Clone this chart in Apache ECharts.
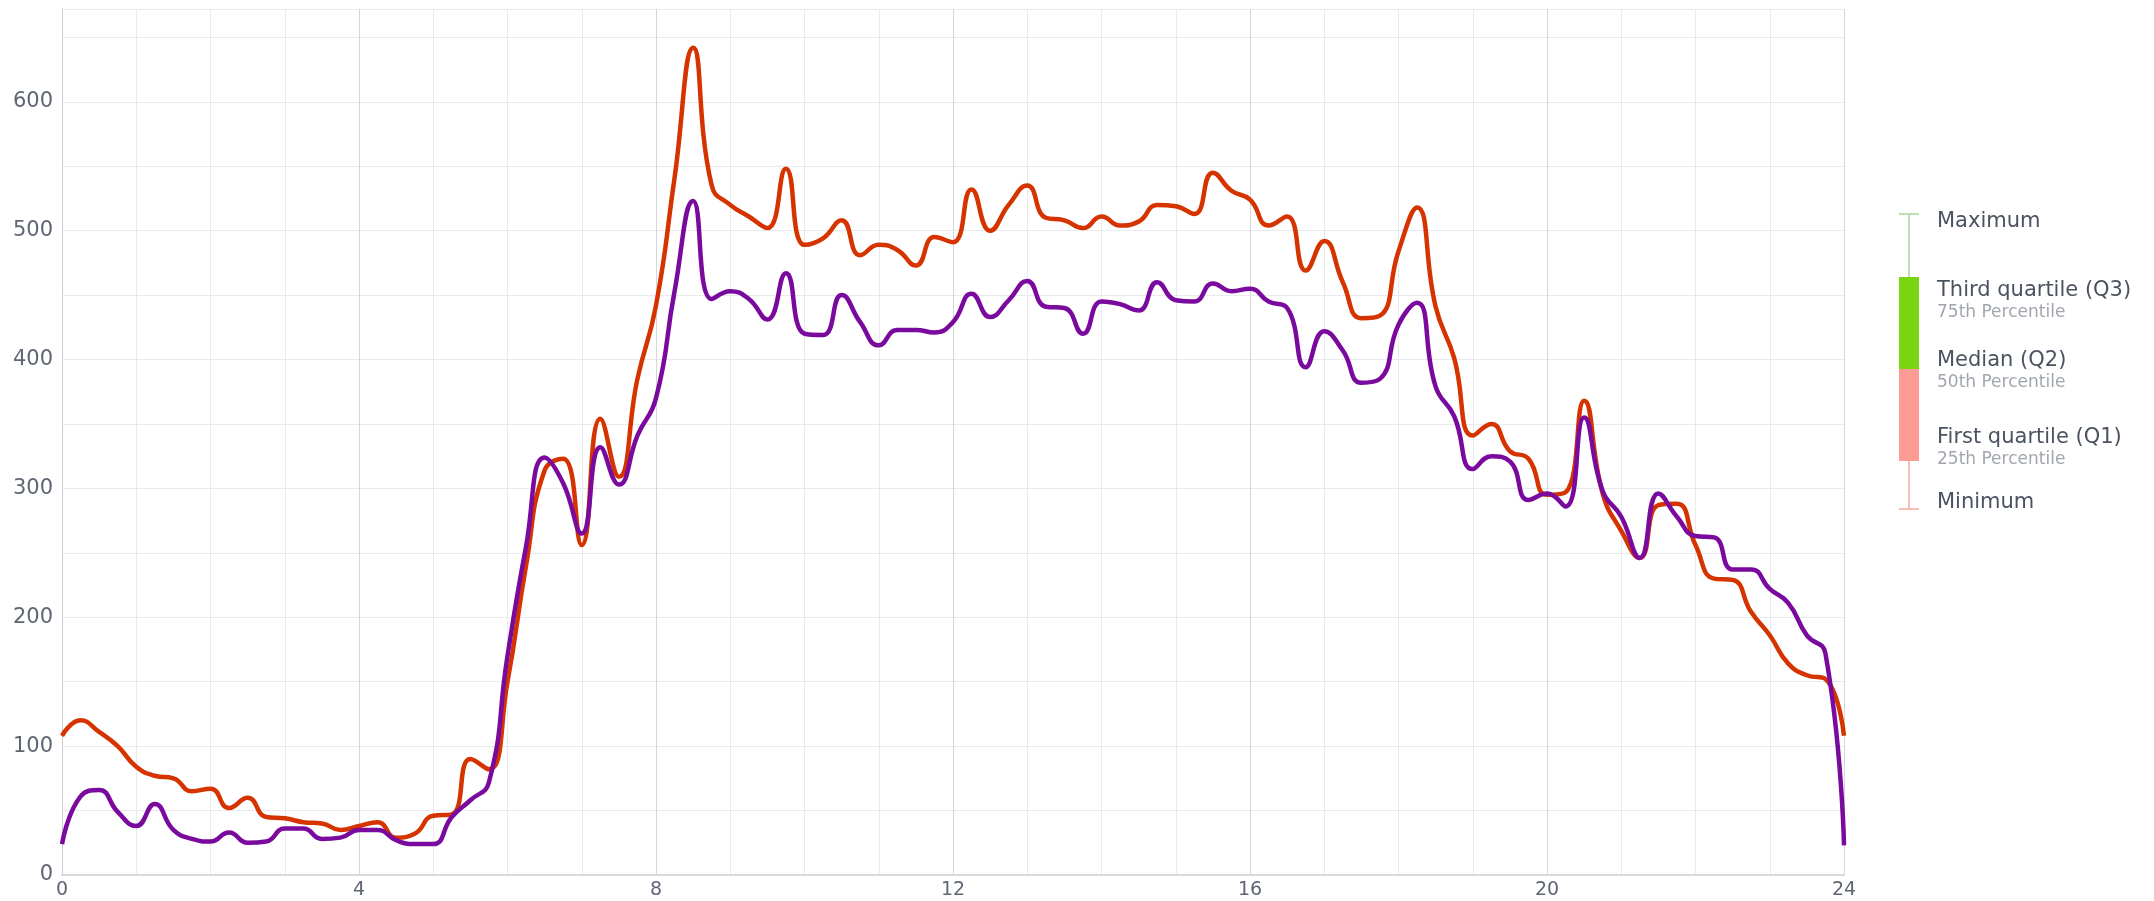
<!DOCTYPE html>
<html lang="en">
<head>
    <meta charset="UTF-8">
    <title>Daily profile</title>
    <script src="https://cdn.jsdelivr.net/npm/echarts/dist/echarts.min.js"></script>
    <style>
        html, body { margin: 0; padding: 0; background: #fff; }
        #main { width: 2154px; height: 901px; }
    </style>
</head>
<body>
    <div id="main"></div>

    <script>
        // readings every 15 minutes, from 0:00 to 24:00
        var stepHours = 0.25;

        var redValues = [
            108, 120, 111, 100, 84, 77, 75, 65, 67, 52, 60, 45,
            44, 41, 40, 35, 38, 41, 29, 32, 46, 47, 90, 82,
            150, 240, 314, 323, 256, 354, 309, 385, 442, 541, 642, 535,
            520, 511, 502, 548, 489, 494, 508, 481, 489, 485, 473, 495,
            491, 532, 500, 520, 535, 510, 508, 502, 511, 504, 507, 520,
            519, 513, 545, 531, 524, 504, 511, 469, 492, 460, 432, 434,
            484, 518, 441, 401, 341, 350, 329, 323, 295, 297, 368, 296,
            267, 246, 287, 288, 256, 230, 229, 204, 186, 164, 155, 152,
            108
        ];

        var purpleValues = [
            24, 61, 66, 49, 38, 55, 35, 28, 26, 33, 25, 26,
            36, 36, 28, 29, 35, 35, 27, 24, 24, 45, 58, 72,
            170, 255, 324, 304, 265, 332, 303, 341, 370, 453, 523, 447,
            453, 447, 431, 467, 420, 419, 450, 429, 411, 423, 423, 421,
            429, 451, 433, 446, 461, 441, 440, 420, 445, 443, 438, 460,
            446, 445, 459, 453, 455, 445, 440, 394, 422, 407, 382, 385,
            427, 444, 379, 356, 315, 325, 321, 291, 296, 286, 355, 298,
            278, 246, 296, 278, 263, 262, 237, 237, 222, 211, 186, 172,
            23
        ];

        // legend entries of the box-plot key
        var keyTitles = ['Maximum', 'Third quartile (Q3)', 'Median (Q2)', 'First quartile (Q1)', 'Minimum'];
        var keySubtitles = ['', '75th Percentile', '50th Percentile', '25th Percentile', ''];

        function toPairs(values) {
            return values.map(function (v, i) { return [i * stepHours, v]; });
        }

        var chart = echarts.init(document.getElementById('main'));

        var labelFont = 'DejaVu Sans';
        var gridLight = '#e9eaed';
        var gridDark = '#d3d6da';

        // static box-plot key on the right
        var keyX = 1909;
        var textX = 1937;
        var titleY = [222, 291, 361, 438, 503];
        var subY = [0, 313, 383, 460, 0];
        var keyGraphics = [
            { type: 'line', shape: { x1: keyX, y1: 214, x2: keyX, y2: 277 }, style: { stroke: '#a9d59c', lineWidth: 1.5 } },
            { type: 'line', shape: { x1: keyX - 10, y1: 214, x2: keyX + 10, y2: 214 }, style: { stroke: '#a9d59c', lineWidth: 1.5 } },
            { type: 'rect', shape: { x: keyX - 10, y: 277, width: 20, height: 92 }, style: { fill: '#79d50f' } },
            { type: 'rect', shape: { x: keyX - 10, y: 369, width: 20, height: 92 }, style: { fill: '#ff9b95' } },
            { type: 'line', shape: { x1: keyX, y1: 461, x2: keyX, y2: 509 }, style: { stroke: '#f8ab9e', lineWidth: 1.5 } },
            { type: 'line', shape: { x1: keyX - 10, y1: 509, x2: keyX + 10, y2: 509 }, style: { stroke: '#f8ab9e', lineWidth: 1.5 } }
        ];
        keyTitles.forEach(function (t, i) {
            keyGraphics.push({
                type: 'text', x: textX, y: titleY[i],
                style: { text: t, font: '21px "DejaVu Sans"', fill: '#4b5361', textVerticalAlign: 'middle' }
            });
            if (keySubtitles[i]) {
                keyGraphics.push({
                    type: 'text', x: textX, y: subY[i],
                    style: { text: keySubtitles[i], font: '17px "DejaVu Sans"', fill: '#a1a6ae', textVerticalAlign: 'middle' }
                });
            }
        });

        var option = {
            animation: false,
            backgroundColor: '#ffffff',
            grid: { left: 62, right: 310, top: 9, bottom: 26 },
            xAxis: {
                type: 'value',
                min: 0,
                max: 24,
                interval: 1,
                axisLine: { show: true, lineStyle: { color: '#d6d9de', width: 2 } },
                axisTick: { show: false },
                axisLabel: {
                    color: '#5f6673',
                    fontFamily: labelFont,
                    fontSize: 19,
                    margin: 6,
                    formatter: function (v) { return v % 4 === 0 ? String(v) : ''; }
                },
                splitLine: { show: true, lineStyle: { color: [gridDark, gridLight, gridLight, gridLight], width: 1 } }
            },
            yAxis: {
                type: 'value',
                min: 0,
                max: 672,
                interval: 50,
                axisLine: { show: true, lineStyle: { color: '#c8ccd2', width: 1 } },
                axisTick: { show: false },
                axisLabel: {
                    color: '#5f6673',
                    fontFamily: labelFont,
                    fontSize: 21,
                    margin: 9,
                    showMaxLabel: false,
                    formatter: function (v) { return v % 100 === 0 ? String(v) : ''; }
                },
                splitLine: { show: true, lineStyle: { color: gridLight, width: 1 } }
            },
            series: [
                {
                    name: 'Red',
                    type: 'line',
                    data: toPairs(redValues),
                    smooth: 0.5,
                    showSymbol: false,
                    lineStyle: { color: '#d53400', width: 4.5 },
                    itemStyle: { color: '#d53400' }
                },
                {
                    name: 'Purple',
                    type: 'line',
                    data: toPairs(purpleValues),
                    smooth: 0.5,
                    showSymbol: false,
                    lineStyle: { color: '#7a0a9e', width: 4.5 },
                    itemStyle: { color: '#7a0a9e' }
                }
            ],
            graphic: keyGraphics
        };

        chart.setOption(option);
    </script>
</body>
</html>
